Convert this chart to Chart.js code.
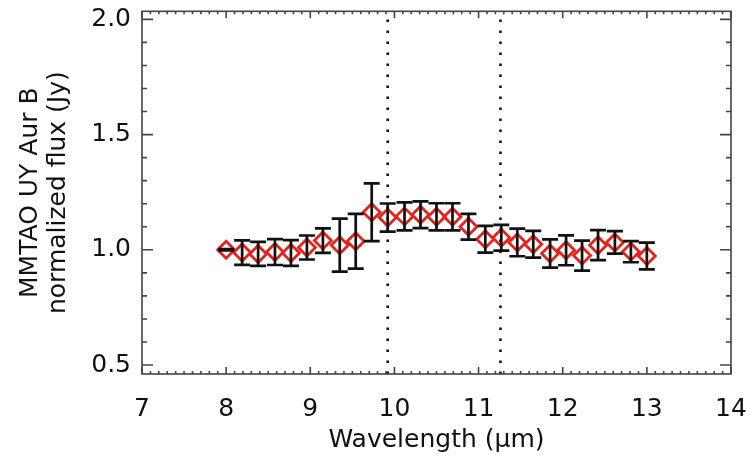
<!DOCTYPE html>
<html>
<head>
<meta charset="utf-8">
<script src="https://cdn.jsdelivr.net/npm/chart.js@4.4.1/dist/chart.umd.min.js"></script>
<style>
  html, body { margin: 0; padding: 0; background: #fff; }
  canvas { display: block; }
</style>
</head>
<body>
<canvas id="chart" width="755" height="458"></canvas>
<script>
// wavelength (um) of each spectral bin
const wavelength = [8.00, 8.19, 8.38, 8.58, 8.77, 8.96, 9.15, 9.35, 9.54, 9.73, 9.92, 10.12, 10.31, 10.50,
    10.69, 10.88, 11.08, 11.27, 11.46, 11.65, 11.85, 12.04, 12.23, 12.42, 12.62, 12.81, 13.00];
// normalized flux (Jy)
const flux = [1.000, 0.988, 0.982, 0.990, 0.986, 1.010, 1.040, 1.020, 1.037, 1.163, 1.140, 1.145, 1.152, 1.143,
    1.143, 1.100, 1.046, 1.052, 1.032, 1.024, 0.984, 0.998, 0.975, 1.020, 1.032, 0.992, 0.973];
// 1-sigma errors
const fluxErr = [0.003, 0.053, 0.052, 0.056, 0.056, 0.052, 0.053, 0.115, 0.119, 0.125, 0.061, 0.061, 0.058, 0.059,
    0.059, 0.056, 0.058, 0.056, 0.060, 0.058, 0.061, 0.065, 0.065, 0.065, 0.049, 0.046, 0.058];
// dotted reference lines
const markerLines = [9.92, 11.26];

const xTicks = [7, 8, 9, 10, 11, 12, 13, 14];
const yTicks = [0.5, 1.0, 1.5, 2.0];
const xRange = [7, 14];
const yRange = [0.461, 2.035];

const FONT = "'DejaVu Sans', sans-serif";

// error bars on top of the diamonds
const errorBars = {
    id: 'errorBars',
    afterDatasetsDraw(chart) {
        const { ctx, scales: { x, y } } = chart;
        ctx.save();
        ctx.strokeStyle = '#111';
        ctx.lineWidth = 2.7;
        wavelength.forEach((w, i) => {
            const px = x.getPixelForValue(w);
            const top = y.getPixelForValue(flux[i] + fluxErr[i]);
            const bot = y.getPixelForValue(flux[i] - fluxErr[i]);
            ctx.beginPath();
            ctx.moveTo(px, top); ctx.lineTo(px, bot);
            ctx.moveTo(px - 8, top); ctx.lineTo(px + 8, top);
            ctx.moveTo(px - 8, bot); ctx.lineTo(px + 8, bot);
            ctx.stroke();
        });
        ctx.restore();
    }
};

// box frame with inward ticks on all four sides
const frame = {
    id: 'frame',
    afterDraw(chart) {
        const { ctx, chartArea: a, scales: { x, y } } = chart;
        ctx.save();
        ctx.strokeStyle = '#444';
        ctx.lineWidth = 1.6;
        ctx.strokeRect(a.left, a.top, a.right - a.left, a.bottom - a.top);
        ctx.beginPath();
        for (let k = 70; k <= 140; k++) {
            const px = x.getPixelForValue(k / 10);
            const len = k % 10 === 0 ? 7 : 3;
            ctx.moveTo(px, a.bottom); ctx.lineTo(px, a.bottom - len);
            ctx.moveTo(px, a.top); ctx.lineTo(px, a.top + len);
        }
        for (let k = 5; k <= 20; k++) {
            const py = y.getPixelForValue(k / 10);
            const len = k % 5 === 0 ? 11 : 5;
            ctx.moveTo(a.left, py); ctx.lineTo(a.left + len, py);
            ctx.moveTo(a.right, py); ctx.lineTo(a.right - len, py);
        }
        ctx.stroke();
        ctx.restore();
    }
};

const datasets = [{
    label: 'flux',
    data: wavelength.map((w, i) => ({ x: w, y: flux[i] })),
    pointStyle: 'rectRot',
    pointRadius: 8.5,
    pointBorderWidth: 2.8,
    borderColor: '#e3231d',
    backgroundColor: 'rgba(0,0,0,0)',
    showLine: false,
    order: 1
}];
markerLines.forEach(v => {
    datasets.push({
        type: 'line',
        label: 'line ' + v,
        data: [{ x: v, y: yRange[0] }, { x: v, y: yRange[1] }],
        borderColor: '#111',
        borderWidth: 2.6,
        borderDash: [2.6, 8.4],
        pointRadius: 0,
        order: 2
    });
});

new Chart(document.getElementById('chart'), {
    type: 'scatter',
    data: { datasets },
    options: {
        responsive: false,
        animation: false,
        events: [],
        layout: { padding: { top: 11, right: 24, left: 0, bottom: 0 } },
        plugins: { legend: { display: false }, tooltip: { enabled: false } },
        scales: {
            x: {
                type: 'linear',
                min: xRange[0],
                max: xRange[1],
                afterBuildTicks: s => { s.ticks = xTicks.map(v => ({ value: v })); },
                afterFit: s => { s.height = 84; s.paddingLeft = 0; s.paddingRight = 0; },
                grid: { display: false, drawTicks: false },
                border: { display: false },
                ticks: {
                    padding: 20,
                    color: '#111',
                    font: { family: FONT, size: 25 },
                    callback: v => String(v)
                },
                title: {
                    display: true,
                    text: 'Wavelength (μm)',
                    color: '#111',
                    font: { family: FONT, size: 25 },
                    padding: { top: 0, bottom: 3 }
                }
            },
            y: {
                type: 'linear',
                min: yRange[0],
                max: yRange[1],
                afterBuildTicks: s => { s.ticks = yTicks.map(v => ({ value: v })); },
                afterFit: s => { s.width = 142; s.paddingTop = 0; s.paddingBottom = 0; },
                grid: { display: false, drawTicks: false },
                border: { display: false },
                ticks: {
                    padding: 11,
                    color: '#111',
                    font: { family: FONT, size: 25 },
                    callback: v => v.toFixed(1)
                },
                title: {
                    display: true,
                    text: ['MMTAO UY Aur B', 'normalized flux (Jy)'],
                    color: '#111',
                    font: { family: FONT, size: 25, lineHeight: 1.12 },
                    padding: { top: 16, bottom: 0 }
                }
            }
        }
    },
    plugins: [errorBars, frame]
});
</script>
</body>
</html>
